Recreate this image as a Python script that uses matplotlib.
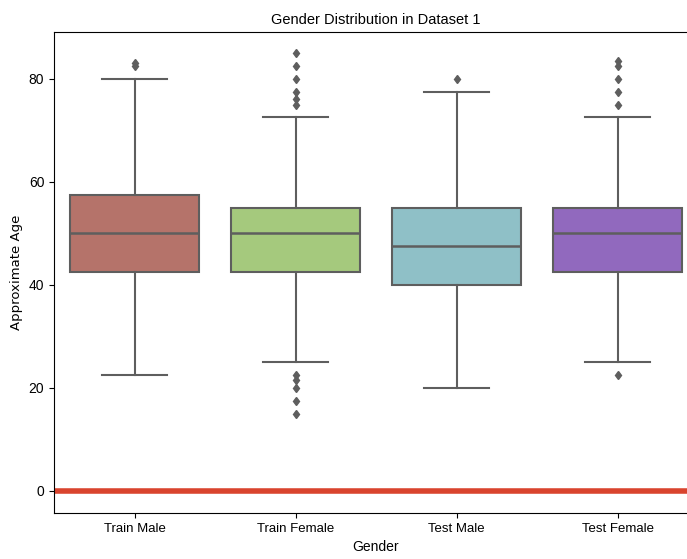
import matplotlib.pyplot as plt

labels = ['Train Male', 'Train Female', 'Test Male', 'Test Female']
whislo = [22.5, 25.0, 20.0, 25.0]
q1 = [42.5, 42.5, 40.0, 42.5]
med = [50.0, 50.0, 47.5, 50.0]
q3 = [57.5, 55.0, 55.0, 55.0]
whishi = [80.0, 72.5, 77.5, 72.5]
fliers = [
    [82.5, 83.0],
    [75.0, 76.0, 77.5, 80.0, 82.5, 85.0, 22.5, 21.5, 20.0, 17.5, 15.0],
    [80.0],
    [75.0, 77.5, 80.0, 82.5, 83.5, 22.5],
]
colors = ['#b5736a', '#a5c97d', '#8fc0c7', '#9169be']

narrow = ['Liberation Sans', 'DejaVu Sans']

stats = []
for i, lab in enumerate(labels):
    stats.append(dict(label=lab, whislo=whislo[i], q1=q1[i], med=med[i],
                      q3=q3[i], whishi=whishi[i], fliers=fliers[i]))

fig = plt.figure(figsize=(6.87, 5.59), dpi=100)
ax = fig.add_axes([54 / 687, 46 / 559, 644 / 687, 481 / 559])

gray = '#5e5e5e'
bp = ax.bxp(stats, positions=range(4), widths=0.8, patch_artist=True,
            boxprops=dict(edgecolor=gray, linewidth=1.5),
            medianprops=dict(color=gray, linewidth=1.8),
            whiskerprops=dict(color=gray, linewidth=1.5),
            capprops=dict(color=gray, linewidth=1.5),
            capwidths=0.4,
            flierprops=dict(marker='d', markerfacecolor=gray,
                            markeredgecolor=gray, markersize=4.5))
for patch, c in zip(bp['boxes'], colors):
    patch.set_facecolor(c)

ax.axhline(0, color='#d9442e', linewidth=4)

ax.set_xlim(-0.5, 3.5)
ax.set_ylim(-4.3, 89.1)
ax.spines['right'].set_visible(False)
ax.set_yticks([0, 20, 40, 60, 80])
ax.set_xticks(range(4))
ax.set_xticklabels(labels, family=narrow, fontsize=9.5)
for t in ax.get_yticklabels():
    t.set_family(narrow)
    t.set_fontsize(10)
ax.set_title('Gender Distribution in Dataset 1', family=narrow, fontsize=10.5)
ax.set_xlabel('Gender', family=narrow, fontsize=10, labelpad=4)
ax.set_ylabel('Approximate Age', fontsize=9.5)

plt.savefig('out.png', dpi=100)
